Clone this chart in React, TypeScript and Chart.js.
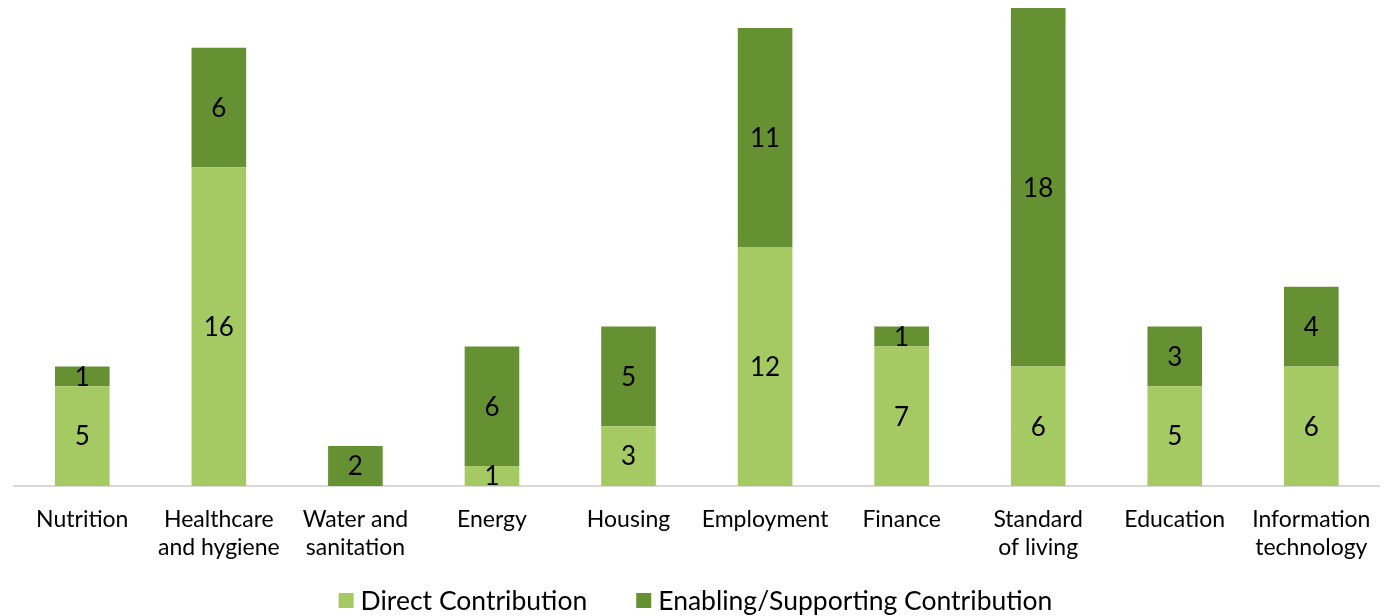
import React, { useEffect, useRef } from "react";
import { Chart, registerables } from "chart.js";

Chart.register(...registerables);

const categories: (string | string[])[] = [
  "Nutrition",
  ["Healthcare", "and hygiene"],
  ["Water and", "sanitation"],
  "Energy",
  "Housing",
  "Employment",
  "Finance",
  ["Standard", "of living"],
  "Education",
  ["Information", "technology"],
];
const directContribution = [5, 16, 0, 1, 3, 12, 7, 6, 5, 6];
const enablingContribution = [1, 6, 2, 6, 5, 11, 1, 18, 3, 4];
const seriesNames = ["Direct Contribution", "Enabling/Supporting Contribution"];
const seriesColors = ["#A5C963", "#659132"];

const FONT = "Lato, 'Open Sans', sans-serif";

const valueLabels = {
  id: "valueLabels",
  afterDatasetsDraw(chart: any) {
    const ctx = chart.ctx;
    ctx.save();
    ctx.font = `26px ${FONT}`;
    ctx.fillStyle = "#000";
    ctx.textAlign = "center";
    ctx.textBaseline = "middle";
    chart.data.datasets.forEach((ds: any, di: number) => {
      const meta = chart.getDatasetMeta(di);
      meta.data.forEach((bar: any, i: number) => {
        const v = ds.data[i];
        if (!v) return;
        const y = (bar.y + bar.base) / 2;
        ctx.fillText(String(v), bar.x, y + 1);
      });
    });
    ctx.restore();
  },
};

const customLegend = {
  id: "customLegend",
  afterDraw(chart: any) {
    const ctx = chart.ctx;
    ctx.save();
    ctx.font = `26.5px ${FONT}`;
    ctx.textBaseline = "middle";
    ctx.textAlign = "left";
    const box = 15;
    const gapText = 7;
    const gapItem = 49;
    const items = chart.data.datasets.map((ds: any) => ({
      label: ds.label,
      color: ds.backgroundColor,
      w: box + gapText + ctx.measureText(ds.label).width,
    }));
    const total = items.reduce((s: number, it: any) => s + it.w, 0) + gapItem * (items.length - 1);
    let x = (chart.width - total) / 2;
    const cy = 601;
    items.forEach((it: any) => {
      ctx.fillStyle = it.color;
      ctx.fillRect(x, cy - 8, box, box);
      ctx.fillStyle = "#000";
      ctx.fillText(it.label, x + box + gapText, cy);
      x += it.w + gapItem;
    });
    ctx.restore();
  },
};

export default function App() {
  const ref = useRef<HTMLCanvasElement>(null);
  useEffect(() => {
    if (!ref.current) return;
    const chart = new Chart(ref.current, {
      type: "bar",
      data: {
        labels: categories as any,
        datasets: [
          {
            label: seriesNames[0],
            data: directContribution,
            backgroundColor: seriesColors[0],
            borderWidth: 0,
          },
          {
            label: seriesNames[1],
            data: enablingContribution,
            backgroundColor: seriesColors[1],
            borderWidth: 0,
          },
        ],
      },
      options: {
        animation: false,
        responsive: false,
        maintainAspectRatio: false,
        layout: { padding: { left: 14, right: 11, top: 8, bottom: 34 } },
        datasets: {
          bar: { barPercentage: 0.4, categoryPercentage: 1.0 },
        },
        scales: {
          x: {
            stacked: true,
            grid: { display: false, drawTicks: false },
            border: { display: true, color: "#D9D9D9", width: 2 },
            ticks: {
              color: "#000",
              font: { family: FONT, size: 23, lineHeight: 1.22 },
              padding: 20,
              maxRotation: 0,
              autoSkip: false,
            },
          },
          y: {
            stacked: true,
            display: false,
            min: 0,
            max: 24,
          },
        },
        plugins: {
          legend: { display: false },
          tooltip: { enabled: false },
        },
      },
      plugins: [valueLabels, customLegend],
    });
    return () => chart.destroy();
  }, []);
  return (
    <div style={{ position: "fixed", left: 0, top: 0, width: 1391, height: 616, background: "#fff" }}>
      <canvas ref={ref} width={1391} height={616} style={{ display: "block" }} />
    </div>
  );
}
